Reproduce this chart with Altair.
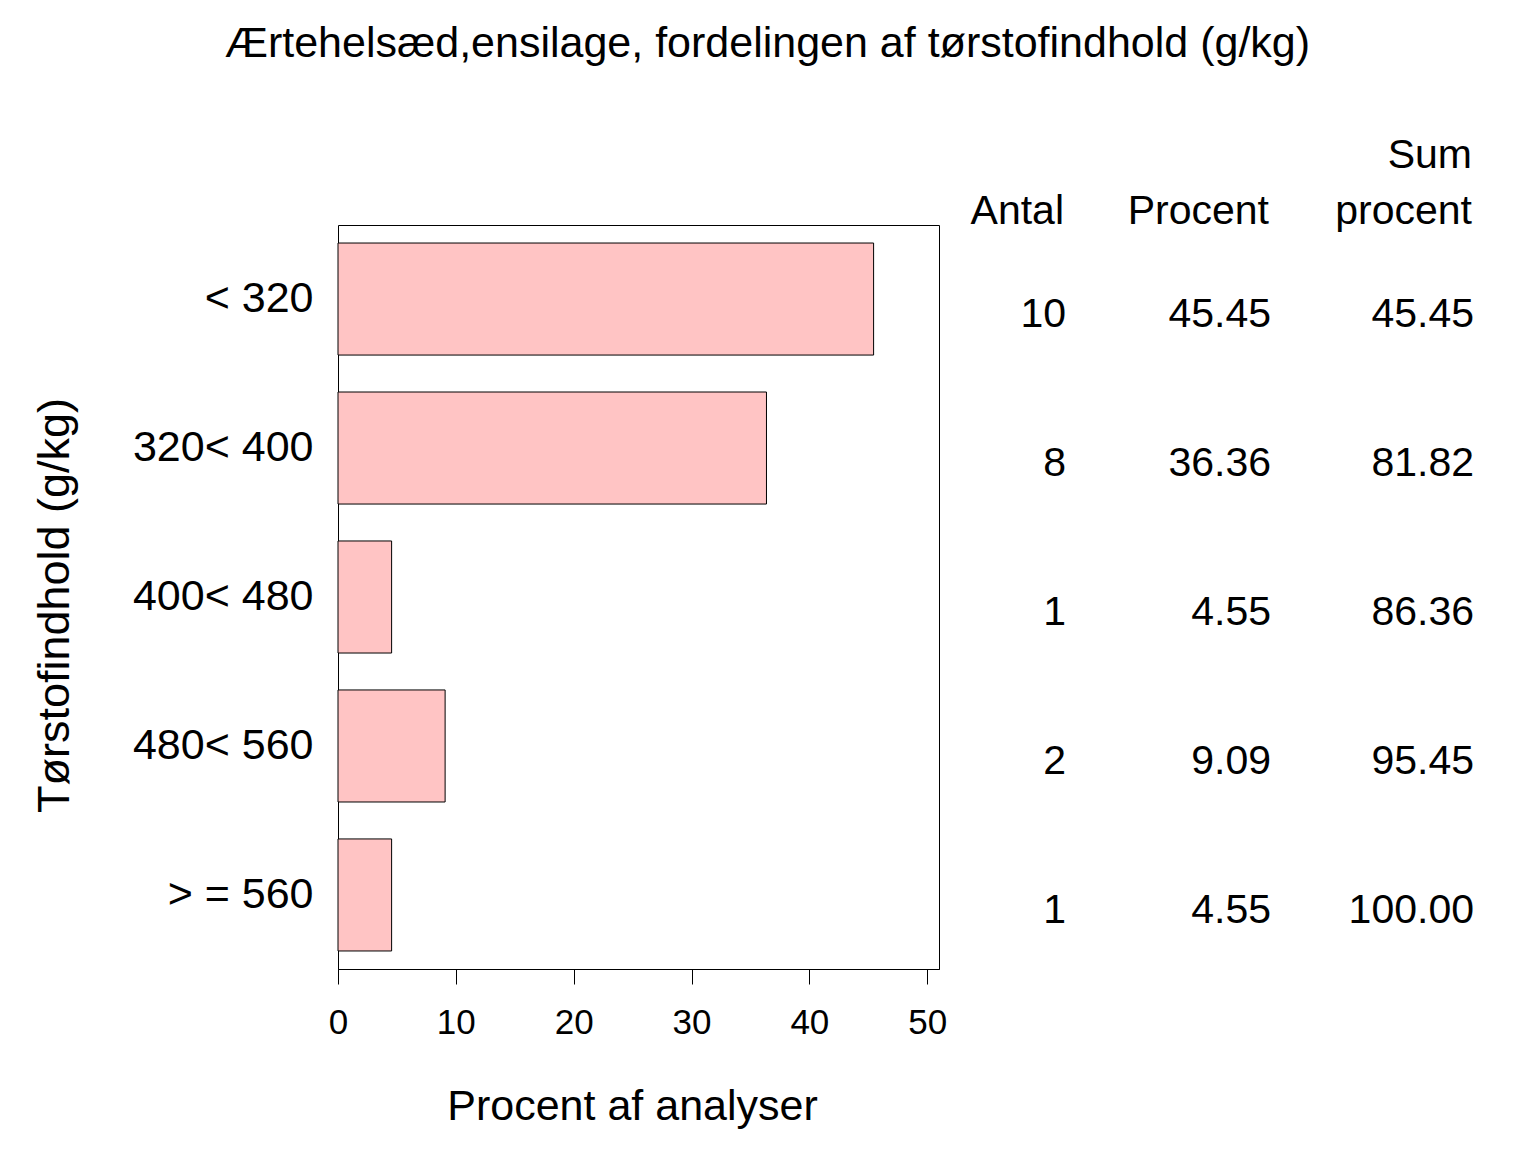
import altair as alt
import pandas as pd

# ---- data ----
categories = ["< 320", "320< 400", "400< 480", "480< 560", "> = 560"]
antal = [10, 8, 1, 2, 1]
procent = [45.45, 36.36, 4.55, 9.09, 4.55]
sum_procent = [45.45, 81.82, 86.36, 95.45, 100.00]
x_ticks = [0, 10, 20, 30, 40, 50]
header_antal = ["Antal"]
header_procent = ["Procent"]
header_sum_1 = ["Sum"]
header_sum_2 = ["procent"]

title_text = "Ærtehelsæd,ensilage, fordelingen af tørstofindhold (g/kg)"
x_title = "Procent af analyser"
y_title = "Tørstofindhold (g/kg)"

df = pd.DataFrame({"kat": categories, "antal": antal, "procent": procent, "sum": sum_procent})

FONT = "Liberation Sans"
W, H = 601, 744
TABLE_FS = 41

y_enc = alt.Y(
    "kat:N",
    sort=categories,
    scale=alt.Scale(paddingInner=0.248, paddingOuter=0.121),
    axis=alt.Axis(
        title=y_title,
        ticks=False,
        tickSize=0,
        domain=False,
        labelPadding=25,
        labelFontSize=43,
        labelFont=FONT,
        labelColor="black",
        labelLimit=0,
        titleFontSize=45,
        titleFont=FONT,
        titleFontWeight="normal",
        titleColor="black",
        titleAngle=270,
        titleX=-270,
        titleY=380,
        titleAlign="center",
        titleBaseline="alphabetic",
    ),
)

bars = alt.Chart(df).mark_bar(fill="#ffc4c4", stroke="black", strokeWidth=1).encode(
    x=alt.X(
        "procent:Q",
        scale=alt.Scale(domain=[0, 51], nice=False, zero=True),
        axis=alt.Axis(
            values=x_ticks,
            title=x_title,
            grid=False,
            tickSize=15,
            tickColor="black",
            tickWidth=1,
            domain=True,
            domainColor="black",
            labelBaseline="alphabetic",
            labelPadding=49,
            labelFontSize=35,
            labelFont=FONT,
            labelColor="black",
            labelFlush=False,
            labelOverlap=False,
            titleFont=FONT,
            titleFontSize=43,
            titleFontWeight="normal",
            titleColor="black",
            titleX=294,
            titleY=150,
            titleBaseline="alphabetic",
            titleAlign="center",
        ),
    ),
    y=y_enc,
)

def col_text(field, fmt, xpos):
    return alt.Chart(df).mark_text(
        align="right", baseline="alphabetic", dy=28, fontSize=TABLE_FS, font=FONT, color="black"
    ).encode(
        y=y_enc,
        x=alt.value(xpos),
        text=alt.Text(field, format=fmt),
    )

def header(values, xpos, ypos):
    return alt.Chart(pd.DataFrame({"h": values})).mark_text(
        align="right", baseline="alphabetic", fontSize=TABLE_FS, font=FONT, color="black"
    ).encode(
        x=alt.value(xpos),
        y=alt.value(ypos),
        text="h:N",
    )

X_ANTAL, X_PROC, X_SUM = 728, 933, 1136

chart = alt.layer(
    bars,
    col_text("antal:Q", "d", X_ANTAL),
    col_text("procent:Q", ".2f", X_PROC),
    col_text("sum:Q", ".2f", X_SUM),
    header(header_antal, X_ANTAL - 2, -1),
    header(header_procent, X_PROC - 2, -1),
    header(header_sum_1, X_SUM - 2, -57),
    header(header_sum_2, X_SUM - 2, -1),
).properties(
    width=W,
    height=H,
    background="white",
    title=alt.TitleParams(
        text=title_text,
        font=FONT,
        fontSize=43,
        fontWeight="normal",
        color="black",
        anchor="middle",
        dx=129,
        offset=35,
        baseline="alphabetic",
    ),
    autosize=alt.AutoSizeParams(type="none"),
    padding={"left": 330, "top": 217, "right": 580, "bottom": 170},
).configure_view(
    stroke="black", strokeWidth=1
)

chart.save("out.html", embed_options={"renderer": "svg", "actions": False})
